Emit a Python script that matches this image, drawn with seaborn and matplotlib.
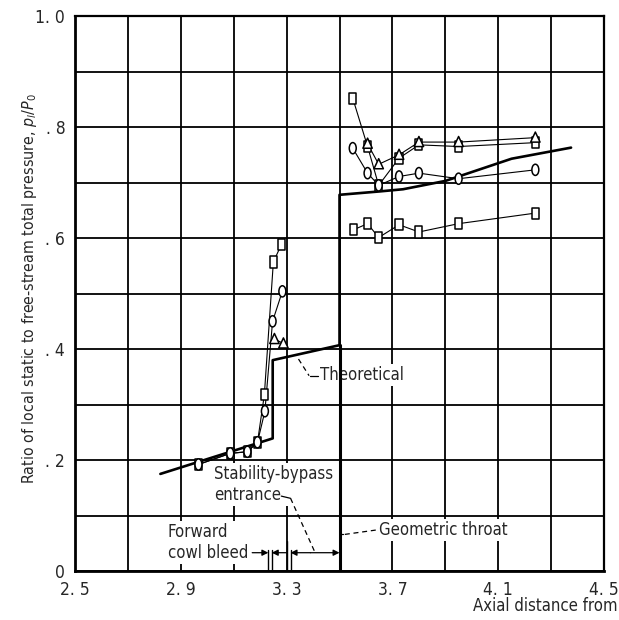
import numpy as np
import pandas as pd
import matplotlib
matplotlib.use("Agg")
import matplotlib.pyplot as plt
from matplotlib.path import Path
import seaborn as sns

# ---- data -------------------------------------------------------------
# theoretical static-pressure distribution
theory_x = [2.823, 3.2475, 3.2475, 3.5, 3.5, 3.65, 3.74, 3.9, 4.15, 4.375]
theory_y = [0.175, 0.239, 0.380, 0.407, 0.678, 0.684, 0.688, 0.703, 0.743, 0.763]

# measured data upstream of the bypass (cowl region)
sq_up_x = [2.967, 3.087, 3.152, 3.19, 3.216, 3.25, 3.281]
sq_up_y = [0.192, 0.212, 0.215, 0.232, 0.318, 0.557, 0.589]
ci_up_x = [2.967, 3.087, 3.152, 3.19, 3.218, 3.247, 3.284]
ci_up_y = [0.192, 0.212, 0.215, 0.232, 0.288, 0.45, 0.504]
tr_up_x = [3.254, 3.288]
tr_up_y = [0.418, 0.41]

# measured data downstream of the throat
sq_hi_x = [3.55, 3.606, 3.648, 3.725, 3.80, 3.95, 4.24]
sq_hi_y = [0.852, 0.765, 0.695, 0.744, 0.768, 0.765, 0.772]
tr_dn_x = [3.606, 3.648, 3.725, 3.80, 3.95, 4.24]
tr_dn_y = [0.77, 0.733, 0.75, 0.773, 0.773, 0.781]
ci_dn_x = [3.55, 3.606, 3.648, 3.725, 3.80, 3.95, 4.24]
ci_dn_y = [0.762, 0.717, 0.695, 0.711, 0.717, 0.707, 0.723]
sq_lo_x = [3.553, 3.606, 3.648, 3.725, 3.80, 3.95, 4.24]
sq_lo_y = [0.615, 0.626, 0.601, 0.624, 0.611, 0.626, 0.645]

# axis ticks
x_ticks = [2.5, 2.7, 2.9, 3.1, 3.3, 3.5, 3.7, 3.9, 4.1, 4.3, 4.5]
x_ticklabels = ["2. 5", "", "2. 9", "", "3. 3", "", "3. 7", "", "4. 1", "", "4. 5"]
y_ticks = [0.0, 0.1, 0.2, 0.3, 0.4, 0.5, 0.6, 0.7, 0.8, 0.9, 1.0]
y_ticklabels = ["0", "", ". 2", "", ". 4", "", ". 6", "", ". 8", "", "1. 0"]

# station markers along the cowl
bleed_start, bleed_end = 3.231, 3.244
bypass_start, bypass_end = 3.303, 3.315
throat_x = 3.5
throat_jump_y = 0.407

# ---- frames -----------------------------------------------------------
series = [
    ("square", "sq_up", sq_up_x, sq_up_y),
    ("circle", "ci_up", ci_up_x, ci_up_y),
    ("triangle", "tr_up", tr_up_x, tr_up_y),
    ("square", "sq_hi", sq_hi_x, sq_hi_y),
    ("triangle", "tr_dn", tr_dn_x, tr_dn_y),
    ("circle", "ci_dn", ci_dn_x, ci_dn_y),
    ("square", "sq_lo", sq_lo_x, sq_lo_y),
]
rows = []
for shape, name, xs, ys in series:
    for xv, yv in zip(xs, ys):
        rows.append({"x": xv, "y": yv, "shape": shape, "run": name})
meas = pd.DataFrame(rows)
theory = pd.DataFrame({"x": theory_x, "y": theory_y})

# tall open markers, as hand-plotted
rect = Path([(-0.32, -0.5), (0.32, -0.5), (0.32, 0.5), (-0.32, 0.5), (-0.32, -0.5)],
            [Path.MOVETO, Path.LINETO, Path.LINETO, Path.LINETO, Path.CLOSEPOLY])
circ = Path.unit_circle()
oval = Path(circ.vertices * np.array([0.62, 1.0]), circ.codes)
tri = Path([(-0.42, -0.4), (0.42, -0.4), (0.0, 0.5), (-0.42, -0.4)],
           [Path.MOVETO, Path.LINETO, Path.LINETO, Path.CLOSEPOLY])
marker_map = {"square": rect, "circle": oval, "triangle": tri}

# ---- figure -----------------------------------------------------------
sns.set_style("white")
plt.rcParams["font.family"] = ["DejaVu Sans"]
plt.rcParams["font.stretch"] = "condensed"
plt.rcParams["mathtext.fontset"] = "dejavusans"

fig = plt.figure(figsize=(6.19, 6.2), dpi=100)
ax = fig.add_axes([0.121, 0.079, 0.855, 0.895])

ax.set_xlim(2.5, 4.5)
ax.set_ylim(0, 1.0)
ax.set_xticks(x_ticks)
ax.set_xticklabels(x_ticklabels, fontsize=12.5)
ax.set_yticks(y_ticks)
ax.set_yticklabels(y_ticklabels, fontsize=12.5)
ax.tick_params(length=0, pad=7)
ax.grid(True, color="black", linewidth=1.3)
ax.set_axisbelow(True)
for side, sp in ax.spines.items():
    sp.set_color("black")
    sp.set_linewidth(2.0 if side in ("left", "bottom") else 1.6)

# measured curves
sns.lineplot(data=meas, x="x", y="y", units="run", estimator=None, sort=False,
             color="black", linewidth=0.8, ax=ax, legend=False, zorder=3)
sns.scatterplot(data=meas, x="x", y="y", style="shape", markers=marker_map,
                s=65, color="white", edgecolor="black", linewidth=1.1,
                ax=ax, legend=False, zorder=4)

# theoretical curve and geometric throat
sns.lineplot(data=theory, x="x", y="y", estimator=None, sort=False,
             color="black", linewidth=1.9, ax=ax, legend=False, zorder=3)
ax.plot([throat_x, throat_x], [0, throat_jump_y], color="black", lw=2.2, zorder=6)

ax.set_xlabel("")
ax.set_ylabel("")

# annotations
txt_bg = dict(facecolor="white", edgecolor="none", pad=1.5)
fs = 12
ax.text(3.425, 0.353, "Theoretical", fontsize=fs, va="center", ha="left",
        bbox=txt_bg, zorder=5)
ax.plot([3.345, 3.385], [0.382, 0.352], color="black", lw=0.9, ls=(0, (4, 3)), zorder=5)
ax.plot([3.39, 3.42], [0.352, 0.352], color="black", lw=0.9, zorder=5)

ax.text(3.027, 0.156, "Stability-bypass\nentrance", fontsize=fs, va="center",
        ha="left", linespacing=1.15, bbox=txt_bg, zorder=5)
ax.plot([3.28, 3.315], [0.135, 0.131], color="black", lw=0.9, zorder=5)
ax.plot([3.315, 3.405], [0.131, 0.036], color="black", lw=0.9, ls=(0, (4, 3)), zorder=5)

ax.text(2.85, 0.052, "Forward\ncowl bleed", fontsize=fs, va="center",
        ha="left", linespacing=1.2, bbox=txt_bg, zorder=5)

ax.text(3.65, 0.074, "Geometric throat", fontsize=fs, va="center", ha="left",
        bbox=txt_bg, zorder=5)
ax.plot([3.5, 3.515], [0.066, 0.066], color="black", lw=0.9, zorder=5)
ax.plot([3.52, 3.64], [0.066, 0.074], color="black", lw=0.9, ls=(0, (4, 3)), zorder=5)

# station ticks and dimension arrows
for xv, top in [(bleed_start, 0.038), (bleed_end, 0.038), (bypass_start, 0.055), (bypass_end, 0.038)]:
    ax.plot([xv, xv], [0, top], color="black", lw=1.0, zorder=5)
arrow_y = 0.033
arr = dict(arrowstyle="-|>", color="black", lw=0.9, mutation_scale=9, shrinkA=0, shrinkB=0)
ax.annotate("", xy=(bleed_start, arrow_y), xytext=(3.17, arrow_y), arrowprops=arr, zorder=5)
ax.annotate("", xy=(bleed_end, arrow_y), xytext=(bypass_start, arrow_y), arrowprops=arr, zorder=5)
ax.annotate("", xy=(bypass_end, arrow_y), xytext=(3.39, arrow_y), arrowprops=arr, zorder=5)
ax.annotate("", xy=(throat_x, arrow_y), xytext=(3.39, arrow_y), arrowprops=arr, zorder=5)

# axis titles
fig.text(0.048, 0.535, r"Ratio of local static to free-stream total pressure, $p_l/P_0$",
         rotation=90, fontsize=11.4, ha="center", va="center")
fig.text(0.998, 0.022, "Axial distance from", fontsize=fs, ha="right", va="center")

fig.savefig("out.png", dpi=100)
